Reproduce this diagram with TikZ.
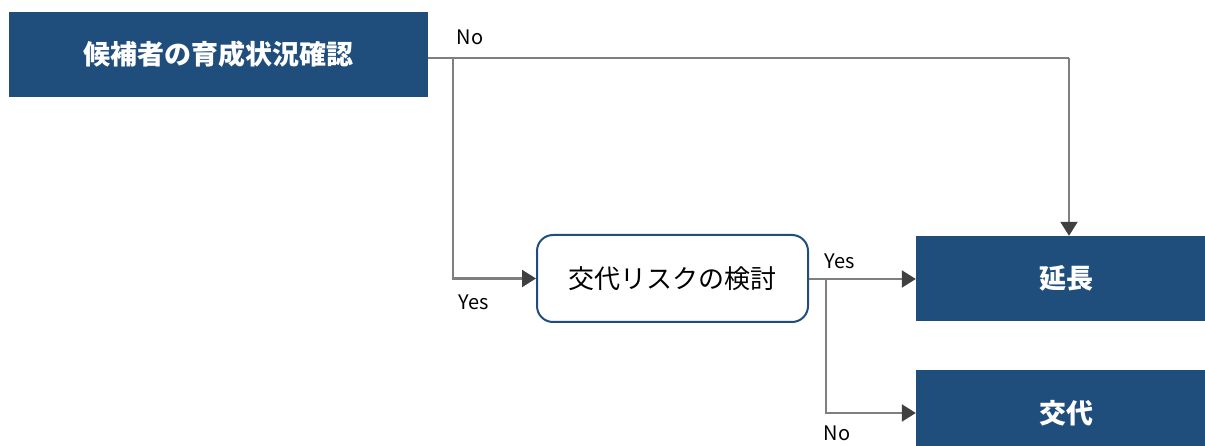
\documentclass[tikz,border=0pt]{standalone}
\usepackage{fontspec}
\setmainfont{Noto Sans CJK JP}
\usetikzlibrary{arrows.meta}
\definecolor{navy}{HTML}{1F4E7D}
\definecolor{linegray}{HTML}{7F7F7F}
\definecolor{tipgray}{HTML}{404040}
\tikzset{
  darkbox/.style={fill=navy, draw=none, text=white, font=\fontsize{27}{30}\selectfont\bfseries, inner sep=0pt, anchor=center},
  roundbox/.style={draw=navy, line width=2pt, fill=white, rounded corners=16pt, text=black, font=\fontsize{26}{30}\selectfont, inner sep=0pt},
  conn/.style={draw=linegray, line width=2.2pt, -{Triangle[length=14pt,width=17pt,fill=tipgray,color=tipgray]}},
  plain/.style={draw=linegray, line width=2.2pt},
  lbl/.style={font=\fontsize{20}{22}\selectfont, text=black, inner sep=0pt}
}
\begin{document}
\begin{tikzpicture}[x=1pt,y=-1pt]
\useasboundingbox (0,0) rectangle (1205,446);
\node[darkbox, minimum width=419pt, minimum height=85pt] (top) at (218.5,54.5) {候補者の育成状況確認};
\node[roundbox, minimum width=271pt, minimum height=87pt] (risk) at (672.5,278.5) {交代リスクの検討};
\node[darkbox, minimum width=300pt, minimum height=85pt] (ext) at (1066,278.5) {延長};
\node[darkbox, minimum width=300pt, minimum height=86pt] (chg) at (1066,413) {交代};
\coordinate (j1) at (453,58);
\coordinate (c1) at (1069,58);
\coordinate (j2) at (826,279);
% top -> ext
\draw[plain] (top.east |- j1) -- (c1);
\draw[conn] (c1) -- (c1 |- ext.north);
% top -> risk
\draw[conn] (j1) |- (risk.west);
% risk -> ext
\draw[conn] (risk.east |- j2) -- (ext.west |- j2);
% risk -> chg
\draw[conn] (j2) |- (chg.west);
\node[lbl] (no1) at (470,37) {No};
\node[lbl] (yes1) at (474,302) {Yes};
\node[lbl] (yes2) at (840,261) {Yes};
\node[lbl] (no2) at (837,433) {No};
\end{tikzpicture}
\end{document}
